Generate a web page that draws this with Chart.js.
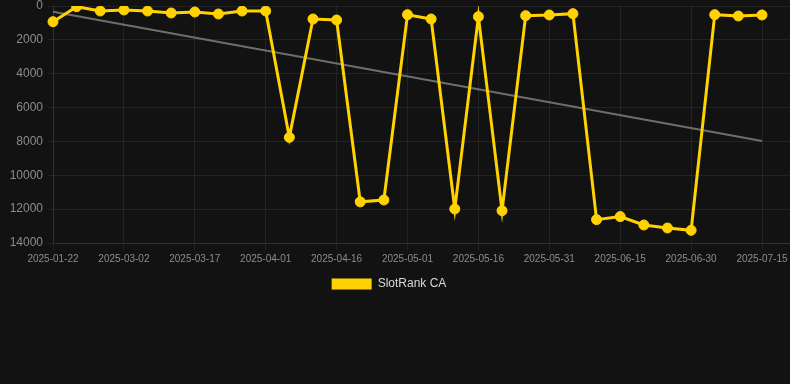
<!DOCTYPE html>
<html>
<head>
<meta charset="utf-8">
<script src="https://cdn.jsdelivr.net/npm/chart.js@4/dist/chart.umd.min.js"></script>
<style>
  html, body { margin: 0; padding: 0; background: #121212; }
  #wrap { position: relative; width: 790px; height: 300px; }
</style>
</head>
<body>
<div id="wrap"><canvas id="c"></canvas></div>
<script>
const dates = [
  '2025-01-22','2025-02-20','2025-02-25','2025-03-02','2025-03-07','2025-03-12',
  '2025-03-17','2025-03-22','2025-03-27','2025-04-01','2025-04-06','2025-04-11',
  '2025-04-16','2025-04-21','2025-04-26','2025-05-01','2025-05-06','2025-05-11',
  '2025-05-16','2025-05-21','2025-05-26','2025-05-31','2025-06-05','2025-06-10',
  '2025-06-15','2025-06-20','2025-06-25','2025-06-30','2025-07-05','2025-07-10',
  '2025-07-15'
];
const rankCA = [
  927, 40, 295, 236, 295, 413, 354, 472, 295, 295,
  7760, 768, 827, 11570, 11460, 512, 768, 11990, 630, 12090,
  571, 531, 453, 12620, 12440, 12937, 13114, 13252, 512, 590,
  531
];
const trendStart = 340;
const trendEnd = 7975;
const yTicks = [0, 2000, 4000, 6000, 8000, 10000, 12000, 14000];
const seriesName = 'SlotRank CA';

const GOLD = '#FFD200';
const GRID = 'rgba(255,255,255,0.07)';
const TICK = '#8c8c8c';
const FONT = "'Liberation Sans', Arial, Helvetica, sans-serif";

const tweakLayout = {
  id: 'tweakLayout',
  afterLayout(chart) {
    const x = chart.scales.x;
    const d = 28;
    x._endPixel -= d;
    x._length -= d;
    if (chart.legend) {
      chart.legend.left -= 6;
      chart.legend.right -= 6;
    }
  }
};

new Chart(document.getElementById('c'), {
  type: 'line',
  data: {
    labels: dates,
    datasets: [
      {
        label: seriesName,
        data: rankCA,
        borderColor: GOLD,
        backgroundColor: GOLD,
        borderWidth: 3,
        pointRadius: 5,
        pointHoverRadius: 5,
        pointBackgroundColor: GOLD,
        pointBorderColor: GOLD,
        pointBorderWidth: 1,
        tension: 0,
        fill: false
      },
      {
        label: 'trend',
        data: [{x: dates[0], y: trendStart}, {x: dates[dates.length - 1], y: trendEnd}],
        borderColor: 'rgba(140,140,140,0.75)',
        borderWidth: 2,
        pointRadius: 0,
        fill: false,
        tension: 0
      }
    ]
  },
  options: {
    responsive: true,
    maintainAspectRatio: false,
    animation: false,
    layout: { autoPadding: false, padding: { left: 0, top: 0, right: 0, bottom: 0 } },
    plugins: {
      legend: {
        position: 'bottom',
        labels: {
          color: '#d8d8d8',
          font: { family: FONT, size: 12 },
          boxWidth: 40,
          boxHeight: 11,
          generateLabels(chart) {
            return Chart.defaults.plugins.legend.labels.generateLabels(chart)
              .filter(it => it.text === seriesName)
              .map(it => Object.assign(it, { lineWidth: 0 }));
          }
        }
      },
      tooltip: { enabled: false }
    },
    scales: {
      x: {
        type: 'category',
        offset: false,
        grid: { color: GRID, tickLength: 7 },
        border: { color: GRID },
        ticks: {
          color: TICK,
          font: { family: FONT, size: 10 },
          maxRotation: 0,
          autoSkip: false,
          padding: 3,
          callback: function(value, index) {
            return index % 3 === 0 ? this.getLabelForValue(value) : null;
          }
        },
        afterFit(s) { s.paddingRight = 0; }
      },
      y: {
        reverse: true,
        min: yTicks[0],
        max: yTicks[yTicks.length - 1],
        grid: { color: GRID, tickLength: 5 },
        border: { color: GRID },
        afterBuildTicks(s) { s.ticks = yTicks.map(v => ({ value: v })); },
        afterFit(s) { s.width = 53; s.paddingTop = 6; s.paddingBottom = 0; },
        ticks: {
          color: TICK,
          font: { family: FONT, size: 12, lineHeight: 1 },
          padding: 5,
          callback: (v) => String(v)
        }
      }
    }
  },
  plugins: [tweakLayout]
});
</script>
</body>
</html>
